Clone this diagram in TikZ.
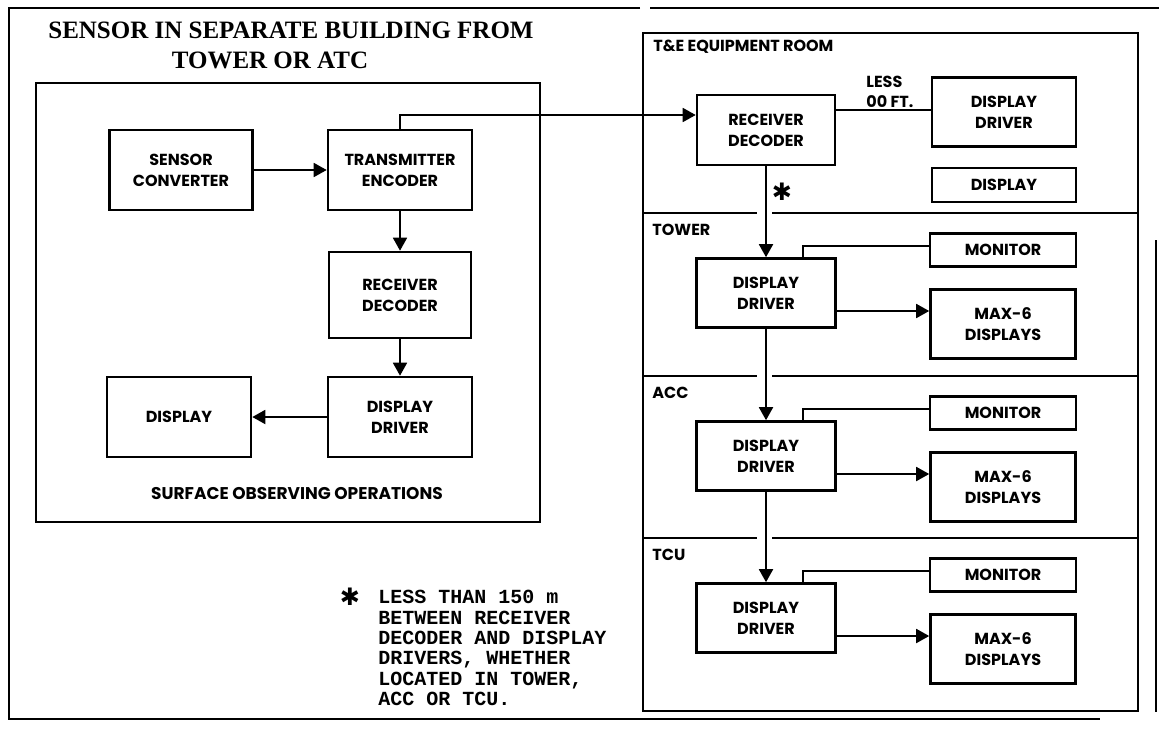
\documentclass[tikz,border=0pt]{standalone}
\usepackage{fontspec}
\setmainfont{Liberation Serif}
\setsansfont{Poppins}
\setmonofont{Liberation Mono}
\newfontfamily\symfont{DejaVu Sans}
\usetikzlibrary{arrows.meta}

\tikzset{
  blk/.style={draw, line width=1.3pt, align=center, inner sep=0pt,
    font=\sffamily\bfseries\fontsize{8}{10.5}\selectfont},
  wire/.style={line width=0.9pt},
  flow/.style={wire, -{Triangle[length=6.5pt,width=7pt]}},
  room/.style={line width=0.8pt},
  tag/.style={anchor=west, inner sep=0pt,
    font=\sffamily\bfseries\fontsize{8}{10}\selectfont},
  headline/.style={inner sep=0pt, font=\rmfamily\bfseries\fontsize{12.5}{14}\selectfont},
  starmark/.style={inner sep=0pt, font=\symfont\bfseries\fontsize{12}{12}\selectfont}
}

\begin{document}
\begin{tikzpicture}[x=0.5pt, y=-0.5pt]
  % Layout in pixels of the 1159x728 sheet, y pointing down.
  % Left: surface observing building; right: T&E room and three display rooms.
  \useasboundingbox (0,0) rectangle (1159,728);

  % sheet frame
  \draw[line width=1.2pt] (640,8) -- (9,8) -- (9,719) -- (1100,719);
  \draw[line width=1.2pt] (650,8) -- (1159,8);
  \draw[line width=0.8pt] (1156,240) -- (1156,712);

  % --- surface observing building ---
  \node[headline] (title1) at (291,30) {SENSOR IN SEPARATE BUILDING FROM};
  \node[headline] (title2) at (270,60) {TOWER OR ATC};
  \draw[room] (36,83) rectangle (540,522);

  \node[blk, minimum width=71.5pt, minimum height=40pt] (sc) at (181,170) {SENSOR\\CONVERTER};
  \node[blk, minimum width=72pt, minimum height=40pt] (te) at (400,170) {TRANSMITTER\\ENCODER};
  \node[blk, minimum width=71pt, minimum height=43pt] (rdl) at (400,295) {RECEIVER\\DECODER};
  \node[blk, minimum width=72pt, minimum height=40pt] (ddl) at (400,417) {DISPLAY\\DRIVER};
  \node[blk, minimum width=72pt, minimum height=40pt] (displ) at (179,417) {DISPLAY};
  \node[tag, anchor=center, font=\sffamily\bfseries\fontsize{8.5}{10}\selectfont]
    (sop) at (297,493) {SURFACE OBSERVING OPERATIONS};

  \draw[flow] (sc.east) -- (te.west);
  \draw[flow] (te.south) -- (rdl.north);
  \draw[flow] (rdl.south) -- (ddl.north);
  \draw[flow] (ddl.west) -- (displ.east);

  % --- T&E equipment room ---
  \draw[room] (643,33) rectangle (1138,711);
  \node[tag] (term) at (653,47) {T\&E EQUIPMENT ROOM};
  \node[blk, minimum width=69pt, minimum height=35pt] (rdr) at (766,130) {RECEIVER\\DECODER};
  \node[blk, minimum width=72pt, minimum height=34.5pt] (ddte) at (1004,112) {DISPLAY\\DRIVER};
  \node[blk, minimum width=72pt, minimum height=17pt] (dispte) at (1004,185) {DISPLAY};
  \node[tag, align=left] (dist) at (866,92) {LESS\\00 FT.};
  \node[starmark] (ast) at (782,192) {✱};

  \draw[flow] (te.north) |- ([yshift=7.5pt]rdr.west);
  \draw[wire] ([yshift=10pt]rdr.east) -- ([yshift=10pt]rdr.east -| ddte.west);

  % --- display rooms, one band each ---
  \foreach \s/\t/\lab/\prev in {tw/213/TOWER/rdr, acc/376/ACC/ddtw, tcu/538/TCU/ddacc} {
    \draw[room] (643,\t) -- (757,\t);
    \draw[room] (772,\t) -- (1138,\t);
    \node[tag] (lab\s) at (652,\t+17) {\lab};
    \node[blk, minimum width=73pt, minimum height=16.5pt] (mon\s) at (1003,\t+37) {MONITOR};
    \node[blk, minimum width=69.5pt, minimum height=34.5pt] (dd\s) at (766,\t+80) {DISPLAY\\DRIVER};
    \node[blk, minimum width=72.5pt, minimum height=34.5pt] (max\s) at (1003,\t+111) {MAX-6\\DISPLAYS};
    \draw[flow] (\prev.south) -- (dd\s.north);
    \draw[wire] ([xshift=18.5pt]dd\s.north) |- ([yshift=2pt]mon\s.west);
    \draw[flow] ([yshift=-9pt]dd\s.east) -- ([yshift=-9pt]dd\s.east -| max\s.west);
  }

  % --- footnote ---
  \node[starmark] (fnstar) at (350,597) {✱};
  \node[anchor=north west, align=left, inner sep=0pt,
    font=\ttfamily\bfseries\fontsize{10}{10.2}\selectfont] (note) at (378,590)
    {LESS THAN 150 m\\BETWEEN RECEIVER\\DECODER AND DISPLAY\\DRIVERS, WHETHER\\LOCATED IN TOWER,\\ACC OR TCU.};
\end{tikzpicture}
\end{document}
